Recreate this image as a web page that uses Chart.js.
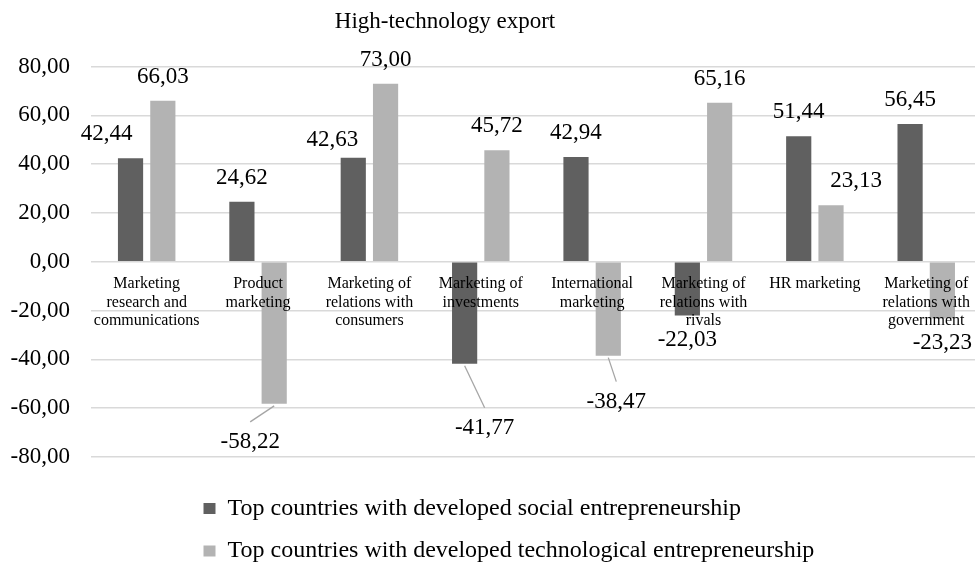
<!DOCTYPE html>
<html>
<head>
<meta charset="utf-8">
<title>High-technology export</title>
<script src="https://cdn.jsdelivr.net/npm/chart.js@4/dist/chart.umd.min.js"></script>
<style>
  body { margin: 0; background: #fff; }
  #wrap { width: 975px; height: 563px; overflow: hidden; }
</style>
</head>
<body>
<div id="wrap"><canvas id="chart" width="983" height="563"></canvas></div>
<script>
var categories = [
    ['Marketing', 'research and', 'communications'],
    ['Product', 'marketing'],
    ['Marketing of', 'relations with', 'consumers'],
    ['Marketing of', 'investments'],
    ['International', 'marketing'],
    ['Marketing of', 'relations with', 'rivals'],
    ['HR marketing'],
    ['Marketing of', 'relations with', 'government']
];
var socialValues = [42.44, 24.62, 42.63, -41.77, 42.94, -22.03, 51.44, 56.45];
var techValues = [66.03, -58.22, 73.00, 45.72, -38.47, 65.16, 23.13, -23.23];
var yMin = -80, yMax = 80, yStep = 20;

// a few value labels were dragged off their default spot: [dx, dy] in px
var socialLabelShift = {0: [-24, 0], 2: [-21, 6], 3: [20, 40]};
var techLabelShift = {1: [-24, 14], 4: [8, 22], 6: [25, 0]};

var serif = "'Liberation Serif', 'Times New Roman', serif";

function fmt(v) {
    return v.toFixed(2).replace('.', ',');
}

var valueLabels = {
    id: 'valueLabels',
    afterDatasetsDraw: function(chart) {
        var ctx = chart.ctx;
        var shifts = [socialLabelShift, techLabelShift];
        ctx.save();
        ctx.font = '23px ' + serif;
        ctx.textAlign = 'center';
        ctx.textBaseline = 'middle';
        chart.data.datasets.forEach(function(ds, i) {
            chart.getDatasetMeta(i).data.forEach(function(bar, j) {
                var v = ds.data[j];
                var dir = v < 0 ? 1 : -1;
                var s = shifts[i][j] || [0, 0];
                var x = bar.x + s[0];
                var y = bar.y + dir * 24 + s[1];
                if (Math.abs(s[1]) > 10) {
                    // leader line back to the bar end
                    ctx.strokeStyle = '#a6a6a6';
                    ctx.lineWidth = 1.3;
                    ctx.beginPath();
                    ctx.moveTo(bar.x, bar.y + dir * 2);
                    ctx.lineTo(x, y - dir * 20);
                    ctx.stroke();
                }
                ctx.fillStyle = '#000';
                ctx.fillText(fmt(v), x, y);
            });
        });
        ctx.restore();
    }
};

// title sits left of centre, legend rows start at a common left edge
var placeBlocks = {
    id: 'placeBlocks',
    afterLayout: function(chart) {
        var t = chart.titleBlock;
        t.left = 0;
        t.right = 890;
        var lg = chart.legend;
        lg.left = 185;
        lg.top += 21;
        lg.bottom += 21;
    }
};

chart = new Chart(document.getElementById('chart').getContext('2d'), {
    type: 'bar',
    data: {
        labels: categories,
        datasets: [{
            label: 'Top countries with developed social entrepreneurship',
            data: socialValues,
            backgroundColor: '#606060',
            categoryPercentage: 0.58,
            barPercentage: 0.78
        }, {
            label: 'Top countries with developed technological entrepreneurship',
            data: techValues,
            backgroundColor: '#b3b3b3',
            categoryPercentage: 0.58,
            barPercentage: 0.78
        }]
    },
    options: {
        responsive: false,
        animation: false,
        layout: { padding: { left: 0, right: 0, top: 0, bottom: 11 } },
        scales: {
            x: {
                position: { y: 0 },
                grid: { display: false, drawTicks: false },
                border: { display: false },
                ticks: {
                    z: 1,
                    color: '#000',
                    font: { family: serif, size: 16, lineHeight: 1.15 },
                    padding: 13,
                    maxRotation: 0,
                    autoSkip: false
                }
            },
            y: {
                min: yMin,
                max: yMax,
                grid: { color: '#d9d9d9', lineWidth: 1.5, drawTicks: false },
                border: { display: false },
                ticks: {
                    stepSize: yStep,
                    color: '#000',
                    font: { family: serif, size: 23 },
                    padding: 21,
                    callback: function(v) { return fmt(v); }
                },
                afterFit: function(s) { s.width = 91; }
            }
        },
        plugins: {
            title: {
                display: true,
                text: 'High-technology export',
                color: '#000',
                font: { family: serif, size: 23, weight: 'normal', lineHeight: 1.2 },
                padding: { top: 8, bottom: 31 }
            },
            legend: {
                position: 'bottom',
                align: 'start',
                labels: {
                    color: '#000',
                    font: { family: serif, size: 24 },
                    boxWidth: 12,
                    boxHeight: 11,
                    padding: 18.5
                }
            },
            tooltip: { enabled: false }
        }
    },
    plugins: [valueLabels, placeBlocks]
});
</script>
</body>
</html>
